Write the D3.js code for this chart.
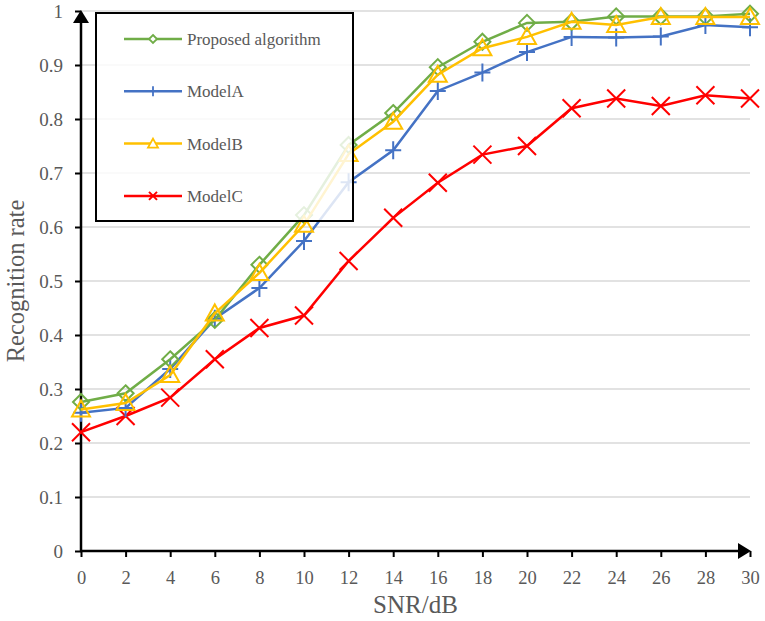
<!DOCTYPE html>
<html><head><meta charset="utf-8">
<script src="https://cdn.jsdelivr.net/npm/d3@7"></script>
<style>body{margin:0;background:#fff}svg{display:block}</style>
</head><body>
<svg id="c" width="765" height="621"></svg>
<script>
const snr = [0,2,4,6,8,10,12,14,16,18,20,22,24,26,28,30];
const proposed = [0.276,0.292,0.355,0.428,0.53,0.622,0.752,0.811,0.896,0.943,0.978,0.98,0.99,0.99,0.99,0.995];
const modelA  = [0.256,0.265,0.337,0.43,0.487,0.574,0.683,0.742,0.852,0.886,0.924,0.952,0.951,0.953,0.974,0.970];
const modelB  = [0.262,0.274,0.326,0.44,0.515,0.604,0.735,0.795,0.882,0.931,0.952,0.98,0.974,0.989,0.989,0.989];
const modelC  = [0.22,0.25,0.284,0.355,0.413,0.436,0.537,0.617,0.682,0.734,0.75,0.82,0.838,0.824,0.844,0.838];
const xTicks = [0,2,4,6,8,10,12,14,16,18,20,22,24,26,28,30];
const yTicks = [0,0.1,0.2,0.3,0.4,0.5,0.6,0.7,0.8,0.9,1];
const seriesNames = ["Proposed algorithm","ModelA","ModelB","ModelC"];
const colors = ["#70ad47","#4472c4","#ffc000","#ff0000"];
const shapes = ["diamond","plus","triangle","cross"];

const svg = d3.select("#c");
const x = d3.scaleLinear().domain([0,30]).range([81,750]);
const y = d3.scaleLinear().domain([0,1]).range([551,11]);
const font = "'Liberation Serif','Times New Roman',serif";
const gray = "#595959";

// gridlines
svg.append("g").selectAll("line").data(yTicks.filter(d=>d>0)).join("line")
  .attr("x1",x(0)).attr("x2",x(30)).attr("y1",d=>y(d)).attr("y2",d=>y(d))
  .attr("stroke","#d9d9d9").attr("stroke-width",1.5);

// axes
const yAxis = d3.axisLeft(y).tickValues(yTicks).tickSize(6).tickPadding(12)
  .tickFormat(d=>d===0||d===1?String(d):d.toFixed(1));
const gy = svg.append("g").attr("transform",`translate(${x(0)},0)`).call(yAxis)
  .attr("font-family",font);
gy.select(".domain").remove();
gy.selectAll(".tick line").attr("stroke","#000").attr("stroke-width",2);
gy.selectAll(".tick text").attr("font-family",font).attr("font-size",19).attr("fill",gray);

const xAxis = d3.axisBottom(x).tickValues(xTicks).tickSize(6).tickPadding(14);
const gx = svg.append("g").attr("transform",`translate(0,${y(0)})`).call(xAxis)
  .attr("font-family",font);
gx.select(".domain").remove();
gx.selectAll(".tick line").attr("stroke","#000").attr("stroke-width",2);
gx.selectAll(".tick text").attr("font-family",font).attr("font-size",18.5).attr("fill",gray);

// axis lines with arrows
svg.append("line").attr("x1",x(0)).attr("x2",x(0)).attr("y1",y(0)+1).attr("y2",y(1)+6)
  .attr("stroke","#000").attr("stroke-width",2.5);
svg.append("path").attr("d",`M${x(0)-8},${y(1)+12}L${x(0)},${y(1)-1}L${x(0)+8},${y(1)+12}Z`).attr("fill","#000");
svg.append("line").attr("x1",x(0)-1).attr("x2",x(30)-6).attr("y1",y(0)).attr("y2",y(0))
  .attr("stroke","#000").attr("stroke-width",2.5);
svg.append("path").attr("d",`M${x(30)-12},${y(0)-8}L${x(30)+1},${y(0)}L${x(30)-12},${y(0)+8}Z`).attr("fill","#000");

// axis titles
svg.append("text").attr("x",(x(0)+x(30))/2).attr("y",613).attr("text-anchor","middle")
  .attr("font-family",font).attr("font-size",25).attr("fill",gray).text("SNR/dB");
svg.append("text").attr("transform",`translate(24,${y(0.5)}) rotate(-90)`).attr("text-anchor","middle")
  .attr("font-family",font).attr("font-size",24.5).attr("fill",gray).text("Recognition rate");

function marker(g, shape, color, cx, cy){
  if(shape==="diamond"){
    g.append("path").attr("d",`M${cx},${cy-8}L${cx+8},${cy}L${cx},${cy+8}L${cx-8},${cy}Z`)
      .attr("fill","none").attr("stroke",color).attr("stroke-width",2);
  } else if(shape==="triangle"){
    g.append("path").attr("d",`M${cx},${cy-9}L${cx+9},${cy+7}L${cx-9},${cy+7}Z`)
      .attr("fill","none").attr("stroke",color).attr("stroke-width",2);
  } else if(shape==="plus"){
    g.append("path").attr("d",`M${cx-8},${cy}L${cx+8},${cy}M${cx},${cy-9}L${cx},${cy+9}`)
      .attr("fill","none").attr("stroke",color).attr("stroke-width",2);
  } else {
    g.append("path").attr("d",`M${cx-9},${cy-9}L${cx+9},${cy+9}M${cx+9},${cy-9}L${cx-9},${cy+9}`)
      .attr("fill","none").attr("stroke",color).attr("stroke-width",2);
  }
}

const allSeries = [proposed, modelA, modelB, modelC];
const line = d3.line().x((d,i)=>x(snr[i])).y(d=>y(d));
const order = [3,1,0,2];
order.forEach(si=>{
  const g = svg.append("g");
  g.append("path").datum(allSeries[si]).attr("d",line).attr("fill","none")
    .attr("stroke",colors[si]).attr("stroke-width",2.5);
  allSeries[si].forEach((v,i)=>marker(g, shapes[si], colors[si], x(snr[i]), y(v)));
});

// legend
const lg = svg.append("g");
lg.append("rect").attr("x",96).attr("y",13).attr("width",257).attr("height",208)
  .attr("fill","#fff").attr("fill-opacity",0.82).attr("stroke","#000").attr("stroke-width",2);
seriesNames.forEach((n,i)=>{
  const ly = 39 + i*52.3;
  lg.append("line").attr("x1",124).attr("x2",182).attr("y1",ly).attr("y2",ly)
    .attr("stroke",colors[i]).attr("stroke-width",2.5);
  const s = shapes[i];
  const mg = lg.append("g");
  if(s==="diamond"){
    mg.append("path").attr("d",`M153,${ly-4}L157,${ly}L153,${ly+4}L149,${ly}Z`).attr("fill","#fff").attr("stroke",colors[i]).attr("stroke-width",1.8);
  } else if(s==="triangle"){
    mg.append("path").attr("d",`M153,${ly-5}L158,${ly+4}L148,${ly+4}Z`).attr("fill","#fff").attr("stroke",colors[i]).attr("stroke-width",1.8);
  } else if(s==="plus"){
    mg.append("path").attr("d",`M153,${ly-5}L153,${ly+5}`).attr("stroke",colors[i]).attr("stroke-width",1.8);
  } else {
    mg.append("path").attr("d",`M149,${ly-4}L157,${ly+4}M157,${ly-4}L149,${ly+4}`).attr("stroke",colors[i]).attr("stroke-width",2);
  }
  lg.append("text").attr("x",187).attr("y",ly+6).attr("font-family",font).attr("font-size",17)
    .attr("fill",gray).text(n);
});
</script>
</body></html>
